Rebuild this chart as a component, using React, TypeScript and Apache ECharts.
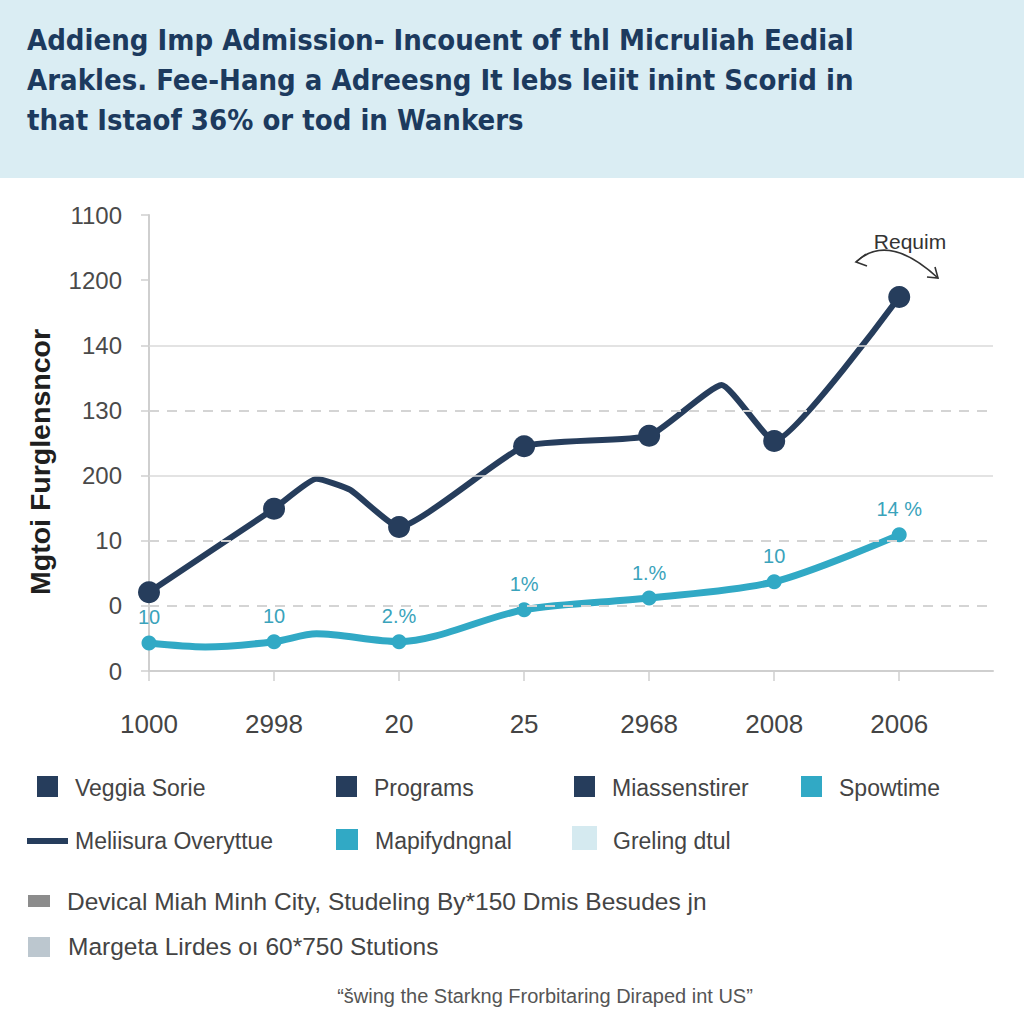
import React, { useEffect, useRef } from "react";
import * as echarts from "echarts";

const titleLines = [
  "Addieng Imp Admission- Incouent of thl Micruliah Eedial",
  "Arakles. Fee-Hang a Adreesng It lebs leiit inint Scorid in",
  "that Istaof 36% or tod in Wankers",
];
const yAxisTitle = "Mgtoi Furglensncor";
const xLabels = ["1000", "2998", "20", "25", "2968", "2008", "2006"];
const yTickLabels = ["0", "0", "10", "200", "130", "140", "1200", "1100"];
// [category position, value on the 0..7 tick scale]
const darkLine: [number, number][] = [
  [0, 1.21], [1, 2.49], [1.34, 2.95], [1.61, 2.78], [2, 2.21],
  [3, 3.45], [4, 3.61], [4.58, 4.39], [5, 3.53], [6, 5.74],
];
const tealLine: [number, number][] = [
  [0, 0.43], [0.45, 0.37], [1, 0.45], [1.34, 0.57], [2, 0.45],
  [3, 0.94], [4, 1.12], [5, 1.37], [6, 2.09],
];
const tealLabels = ["10", "10", "2.%", "1%", "1.%", "10", "14 %"];
const dashedGrid = [1, 2, 4];
const solidGrid = [3, 5];
const annotation = "Requim";
const legendRow1 = ["Veggia Sorie", "Programs", "Miassenstirer", "Spowtime"];
const legendRow2 = ["Meliisura Overyttue", "Mapifydngnal", "Greling dtul"];
const noteLines = [
  "Devical Miah Minh City, Studeling By*150 Dmis Besudes jn",
  "Margeta Lirdes o\u0131 60*750 Stutions",
];
const footer = "\u201C\u0161wing the Starkng Frorbitaring Diraped int US\u201D";

const DARK = "#263d5c";
const TEAL = "#31a9c5";
const SANS = "'Liberation Sans', Arial, sans-serif";
const NARROW = "'Liberation Sans Narrow', 'DejaVu Sans Condensed', 'Liberation Sans', sans-serif";

export default function App() {
  const ref = useRef<HTMLDivElement>(null);
  useEffect(() => {
    if (!ref.current) return;
    const chart = echarts.init(ref.current, undefined, { renderer: "svg" });

    const legendTextStyle = { fill: "#444", font: `23px ${SANS}`, verticalAlign: "middle" as const };
    const noteTextStyle = { fill: "#444", font: `24.5px ${SANS}`, verticalAlign: "middle" as const };
    const row1Colors = [DARK, DARK, DARK, TEAL];
    const row1X = [37, 336, 574, 801];
    const row2X = [27, 336, 572];
    const graphic: any[] = [
      { type: "rect", left: 0, top: 0, shape: { width: 1024, height: 178 }, style: { fill: "#daedf3" }, z: -10 },
      ...titleLines.map((t, i) => ({
        type: "text",
        x: 27,
        y: 40 + i * 40,
        style: { text: t, fill: "#1c3a5e", font: `bold 29px ${NARROW}`, verticalAlign: "middle" },
      })),
      {
        type: "text",
        x: 40,
        y: 462,
        rotation: Math.PI / 2,
        style: { text: yAxisTitle, fill: "#1f1f1f", font: `bold 28.5px ${SANS}`, align: "center", verticalAlign: "middle" },
      },
      {
        type: "text",
        x: 910,
        y: 241,
        style: { text: annotation, fill: "#333", font: `21px ${SANS}`, align: "center", verticalAlign: "middle" },
      },
      {
        type: "bezierCurve",
        shape: { x1: 856, y1: 262, cpx1: 888, cpy1: 232, x2: 938, y2: 278 },
        style: { stroke: "#333", lineWidth: 1.6, fill: "none" },
      },
      { type: "polyline", shape: { points: [[866, 254], [856, 262], [867, 266]] }, style: { stroke: "#333", lineWidth: 1.6, fill: "none" } },
      { type: "polyline", shape: { points: [[927, 277], [938, 278], [935, 267]] }, style: { stroke: "#333", lineWidth: 1.6, fill: "none" } },
    ];
    legendRow1.forEach((name, i) => {
      graphic.push({ type: "rect", shape: { x: row1X[i], y: 776, width: 21, height: 21 }, style: { fill: row1Colors[i] } });
      graphic.push({ type: "text", x: row1X[i] + 38, y: 788, style: { ...legendTextStyle, text: name } });
    });
    graphic.push({ type: "rect", shape: { x: row2X[0], y: 838, width: 41, height: 6 }, style: { fill: DARK } });
    graphic.push({ type: "text", x: 75, y: 841, style: { ...legendTextStyle, text: legendRow2[0] } });
    graphic.push({ type: "rect", shape: { x: row2X[1], y: 829, width: 22, height: 21 }, style: { fill: TEAL } });
    graphic.push({ type: "text", x: 375, y: 841, style: { ...legendTextStyle, text: legendRow2[1] } });
    graphic.push({ type: "rect", shape: { x: row2X[2], y: 826, width: 25, height: 24 }, style: { fill: "#d5eaf0" } });
    graphic.push({ type: "text", x: 613, y: 841, style: { ...legendTextStyle, text: legendRow2[2] } });
    graphic.push({ type: "rect", shape: { x: 28, y: 895, width: 22, height: 12 }, style: { fill: "#8c8c8c" } });
    graphic.push({ type: "text", x: 67, y: 901, style: { ...noteTextStyle, text: noteLines[0] } });
    graphic.push({ type: "rect", shape: { x: 28, y: 937, width: 22, height: 20 }, style: { fill: "#bcc7cf" } });
    graphic.push({ type: "text", x: 68, y: 946, style: { ...noteTextStyle, text: noteLines[1] } });
    graphic.push({
      type: "text",
      x: 545,
      y: 996,
      style: { text: footer, fill: "#555", font: `20px ${SANS}`, align: "center", verticalAlign: "middle" },
    });

    const gridLineData = [
      ...dashedGrid.map((v) => ({ yAxis: v, lineStyle: { type: [10, 8], color: "#d4d4d4", width: 2 } })),
      ...solidGrid.map((v) => ({ yAxis: v, lineStyle: { type: "solid", color: "#dadada", width: 1.5 } })),
    ];

    chart.setOption({
      animation: false,
      backgroundColor: "#ffffff",
      grid: { left: 149, right: 31, top: 215, bottom: 353, containLabel: false },
      xAxis: {
        type: "value",
        min: 0,
        max: 6.75,
        interval: 1,
        splitLine: { show: false },
        axisLine: { show: true, lineStyle: { color: "#cfcfcf", width: 2 } },
        axisTick: { show: true, length: 10, customValues: [0, 1, 2, 3, 4, 5, 6], lineStyle: { color: "#cfcfcf", width: 1.5 } },
        axisLabel: {
          customValues: [0, 1, 2, 3, 4, 5, 6],
          formatter: (v: number) => xLabels[Math.round(v)] ?? "",
          margin: 40,
          color: "#444",
          fontSize: 26,
          fontFamily: SANS,
        },
      },
      yAxis: {
        type: "value",
        min: 0,
        max: 7,
        interval: 1,
        splitLine: { show: false },
        axisLine: { show: true, lineStyle: { color: "#cfcfcf", width: 2 } },
        axisTick: { show: true, length: 8, lineStyle: { color: "#cfcfcf", width: 1.5 } },
        axisLabel: {
          formatter: (v: number) => yTickLabels[Math.round(v)] ?? "",
          margin: 27,
          color: "#4a4a4a",
          fontSize: 24,
          fontFamily: SANS,
        },
      },
      graphic,
      series: [
        {
          type: "line",
          data: [],
          z: 1,
          silent: true,
          markLine: { silent: true, symbol: "none", label: { show: false }, data: gridLineData },
        },
        {
          type: "line",
          z: 3,
          smooth: 0.3,
          lineStyle: { color: TEAL, width: 7 },
          itemStyle: { color: TEAL },
          symbolSize: 15,
          data: tealLine.map(([x, y]) => {
            const isMain = Number.isInteger(x);
            return {
              value: [x, y],
              symbol: isMain ? "circle" : "none",
              label: {
                show: isMain,
                position: "top",
                distance: 8,
                formatter: isMain ? tealLabels[x] : "",
                color: "#3aa3bb",
                fontSize: 20,
                fontFamily: SANS,
              },
            };
          }),
        },
        {
          type: "line",
          z: 4,
          smooth: 0.15,
          lineStyle: { color: DARK, width: 6 },
          itemStyle: { color: DARK },
          symbolSize: 22,
          data: darkLine.map(([x, y]) => ({
            value: [x, y],
            symbol: Number.isInteger(x) ? "circle" : "none",
          })),
        },
      ],
    });
    return () => chart.dispose();
  }, []);
  return (
    <div
      ref={ref}
      style={{ position: "absolute", left: 0, top: 0, width: 1024, height: 1024, background: "#fff" }}
    />
  );
}
